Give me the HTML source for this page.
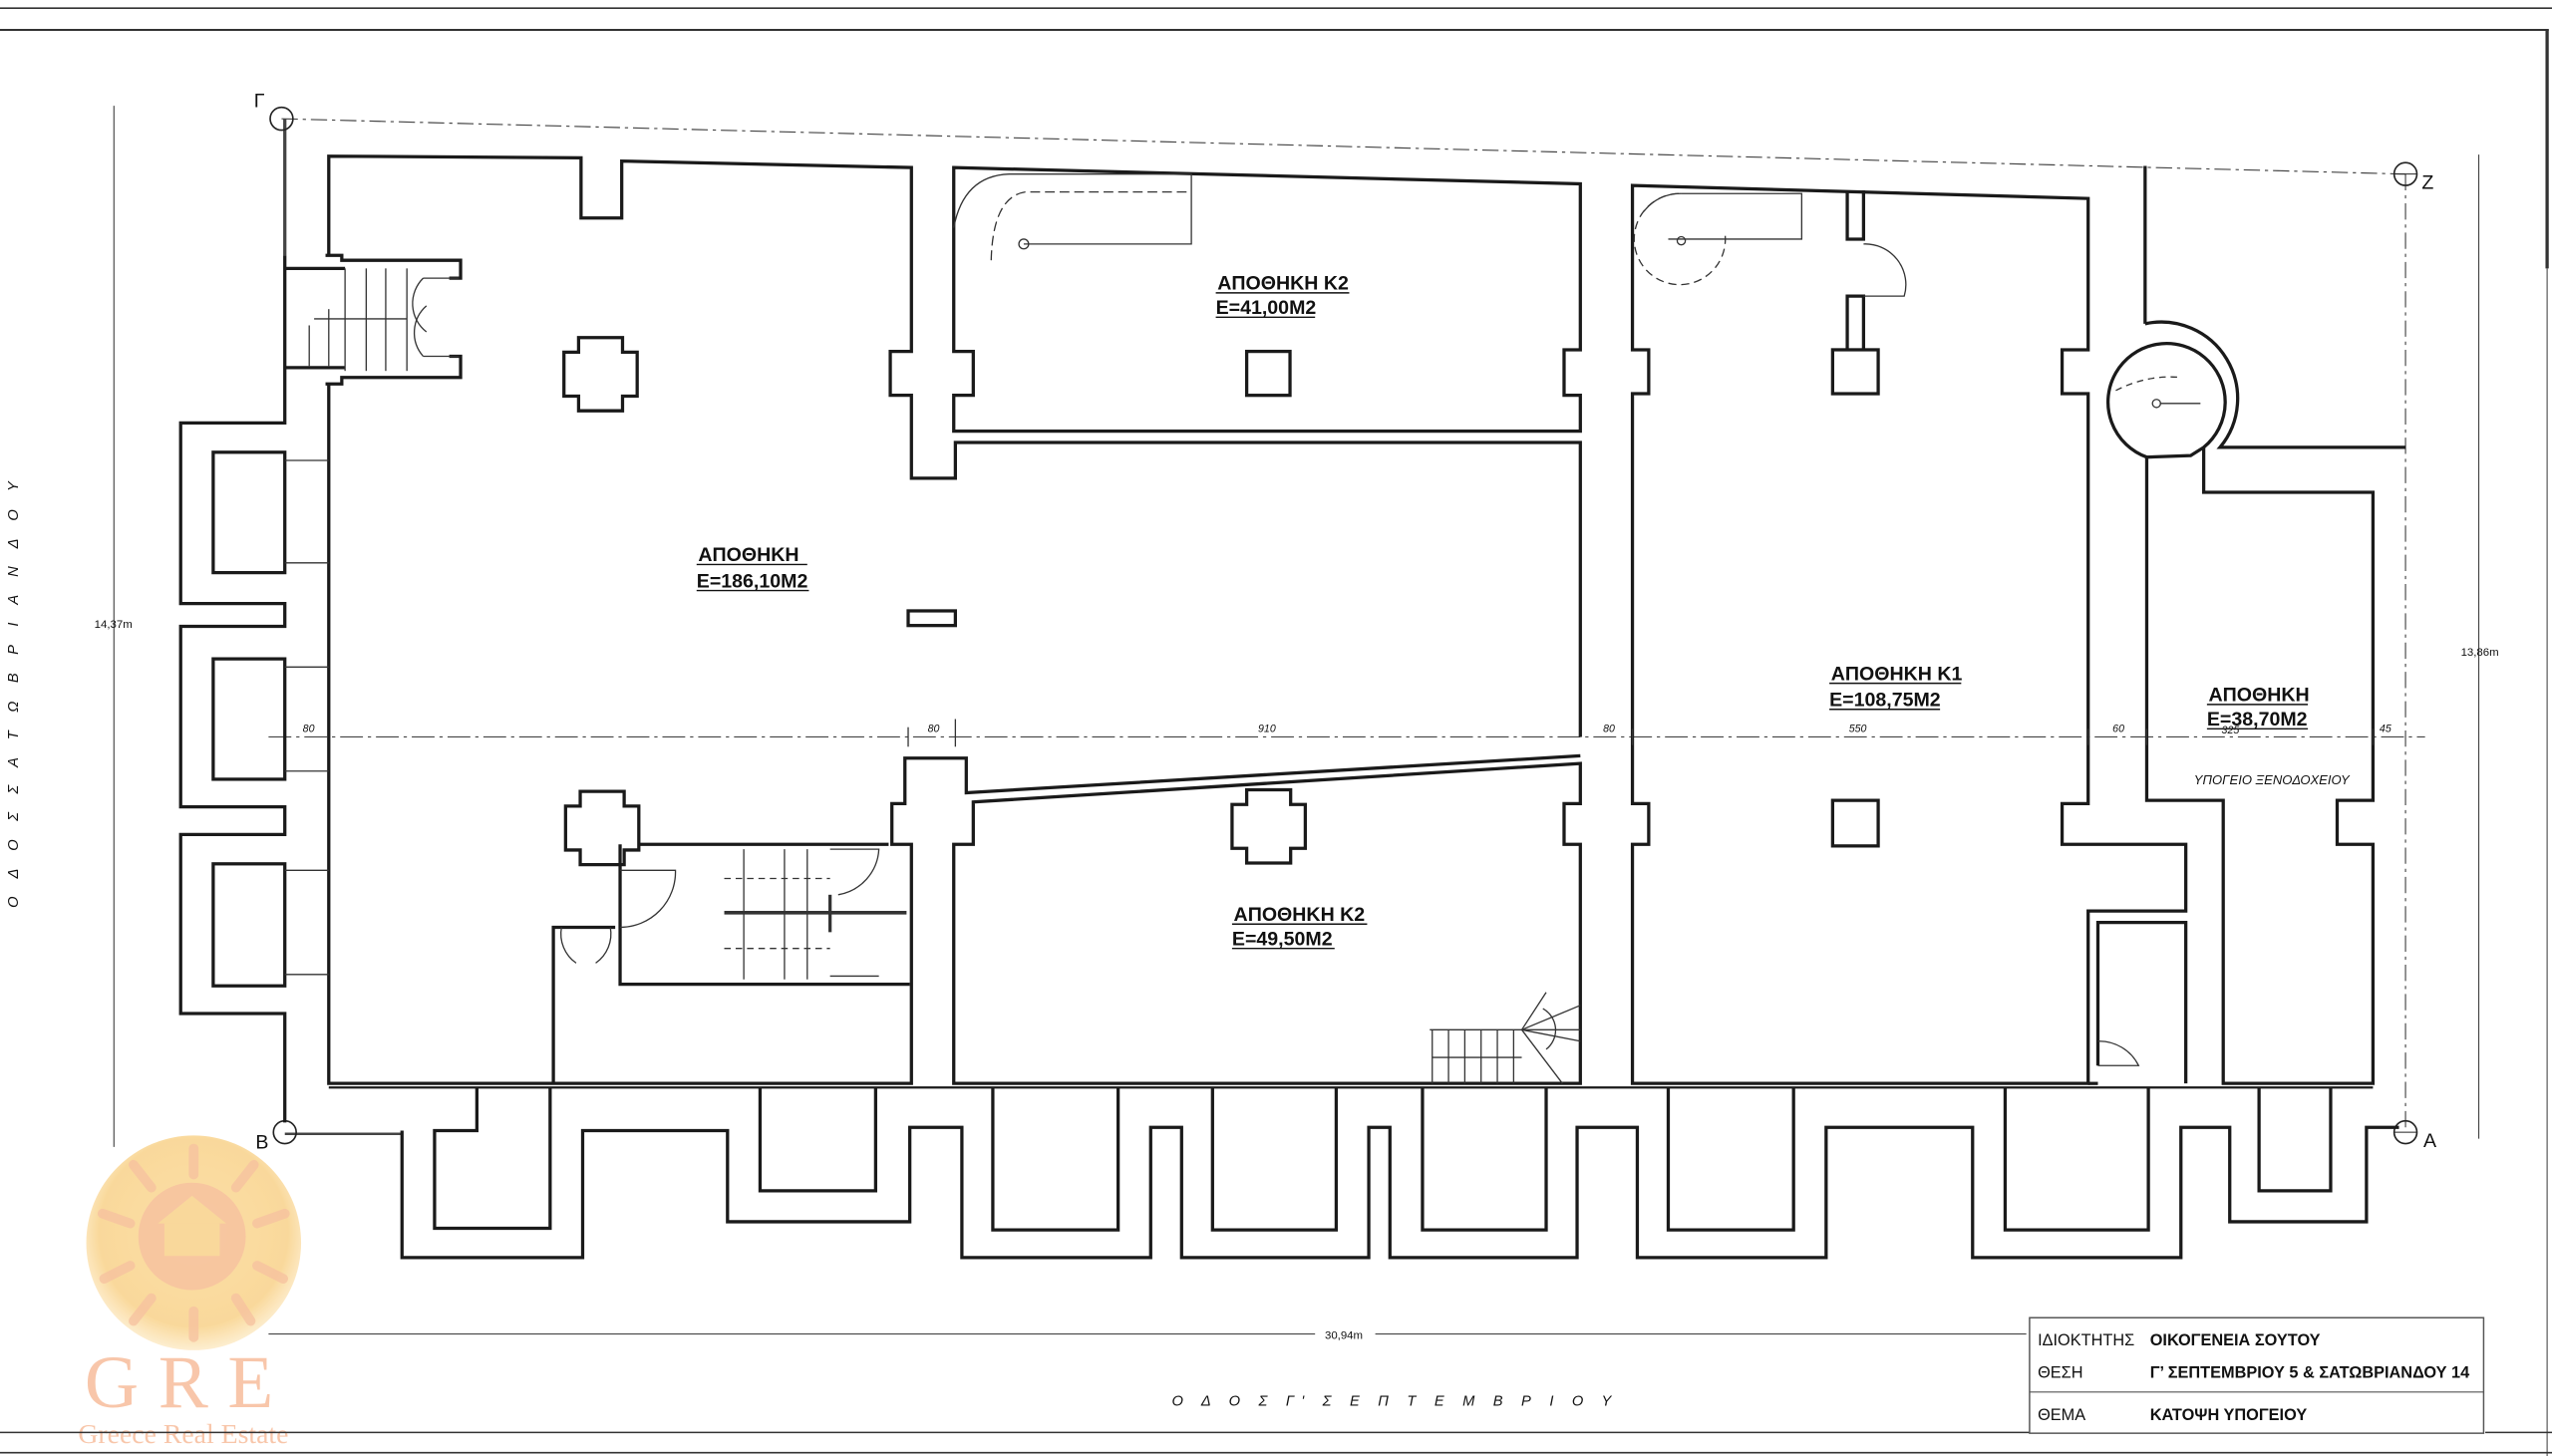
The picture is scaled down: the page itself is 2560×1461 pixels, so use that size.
<!DOCTYPE html>
<html><head><meta charset="utf-8"><style>
html,body{margin:0;padding:0;background:#fff;width:2560px;height:1461px;overflow:hidden}
svg{display:block}
text{font-family:"Liberation Sans","Noto Sans CJK SC",sans-serif;fill:#111}
</style></head><body>
<svg width="2560" height="1461" viewBox="0 0 1568 895" preserveAspectRatio="none" xmlns="http://www.w3.org/2000/svg">
<rect width="1568" height="895" fill="#fff"/>
<!-- logo watermark -->
<defs><radialGradient id="g" cx="50%" cy="45%" r="55%"><stop offset="0" stop-color="#fbd58a"/><stop offset="0.8" stop-color="#f8cc7a"/><stop offset="1" stop-color="#fde9c2"/></radialGradient></defs>
<g opacity="0.75">
<circle cx="119" cy="764" r="66" fill="url(#g)"/>
<circle cx="118" cy="760" r="33" fill="#f4ad80" opacity="0.8"/>
<rect x="101" y="752" width="34" height="20" fill="#f8cc7a"/>
<polygon points="97,752 118,735 139,752" fill="#f8cc7a"/>
<g stroke="#f4ad80" stroke-width="6" opacity="0.75" stroke-linecap="round">
<line x1="119" y1="722" x2="119" y2="706"/><line x1="145" y1="730" x2="156" y2="716"/><line x1="158" y1="752" x2="175" y2="746"/><line x1="158" y1="778" x2="174" y2="786"/><line x1="145" y1="798" x2="154" y2="812"/><line x1="119" y1="806" x2="119" y2="822"/><line x1="93" y1="798" x2="82" y2="812"/><line x1="80" y1="778" x2="64" y2="786"/><line x1="80" y1="752" x2="63" y2="746"/><line x1="93" y1="730" x2="82" y2="716"/>
</g>
<text x="52" y="865" font-size="46" style="fill:#f6b48e;font-family:'Liberation Serif',serif" letter-spacing="12">GRE</text>
<text x="48" y="887" style="fill:#f6b48e;font-family:'Liberation Serif',serif" font-size="17">Greece Real Estate</text>
</g>

<!-- borders -->
<g stroke="#333" fill="none">
<line x1="0" y1="5" x2="1568" y2="5" stroke-width="1"/>
<line x1="0" y1="18.4" x2="1566" y2="18.4" stroke-width="1.2"/>
<line x1="1565" y1="18" x2="1565" y2="165" stroke-width="2"/>
<line x1="1565" y1="165" x2="1565" y2="895" stroke-width="0.6"/>
<line x1="0" y1="880.5" x2="1247" y2="880.5" stroke-width="0.9"/>
<line x1="1527" y1="880.5" x2="1568" y2="880.5" stroke-width="0.9"/>
<line x1="0" y1="893" x2="1568" y2="893" stroke-width="1"/>
</g>

<!-- reference / dimension lines -->
<g stroke="#444" fill="none" stroke-width="0.7">
<line x1="173" y1="73" x2="1478" y2="107" stroke-dasharray="10 3 2 3"/>
<line x1="1478" y1="107" x2="1478" y2="696" stroke-dasharray="10 3 2 3"/>
<line x1="165" y1="453" x2="1490" y2="453" stroke-dasharray="14 3 2 3"/>
<line x1="70" y1="65" x2="70" y2="705"/>
<line x1="1523" y1="95" x2="1523" y2="700"/>
<line x1="165" y1="820" x2="808" y2="820"/>
<line x1="845" y1="820" x2="1245" y2="820"/>
<line x1="175" y1="697" x2="247" y2="697" stroke-width="1.5"/>
<line x1="175" y1="73" x2="175" y2="157" stroke-width="2"/>
</g>
<g stroke="#222" fill="none" stroke-width="1">
<circle cx="173" cy="73" r="7"/><circle cx="175" cy="696" r="7"/>
<circle cx="1478" cy="107" r="7"/><circle cx="1478" cy="696" r="7"/>
<line x1="1471" y1="107" x2="1485" y2="107" stroke-width="0.6"/><line x1="1471" y1="696" x2="1485" y2="696" stroke-width="0.6"/>
</g>
<text x="156" y="66" font-size="12">Γ</text>
<text x="157" y="706" font-size="12">B</text>
<text x="1488" y="116" font-size="12">Z</text>
<text x="1489" y="705" font-size="12">A</text>

<!-- walls -->
<g stroke="#1a1a1a" fill="none" stroke-width="2" stroke-linejoin="miter">
<polyline points="202,157 202,96 357,97 357,134 382,134 382,99 560,103 560,216 547,216 547,243 560,243 560,294 587,294 587,272 971,272 971,453"/>
<polyline points="971,464.6 593.7,487.3 593.7,466 556,466 556,494 548,494 548,519 560,519 560,666 202,666 202,236"/>
<polyline points="200,157 210,157 210,160 283,160 283,171 276,171"/>
<polyline points="200,236 210,236 210,232 283,232 283,219 276,219"/>
<polyline points="175,165 212,165"/><polyline points="175,226 212,226"/>
<polyline points="175,157 175,260 111,260 111,371 175,371 175,385 111,385 111,496 175,496 175,513 111,513 111,623 175,623 175,690"/>
<rect x="131" y="278" width="44" height="74"/>
<rect x="131" y="405" width="44" height="74"/>
<rect x="131" y="531" width="44" height="75"/>
<polygon points="586,103 971,113 971,215 961,215 961,243 971,243 971,265 586,265 586,243 598,243 598,216 586,216"/>
<polygon points="598,493 971,469.3 971,494 961,494 961,519 971,519 971,666 586,666 586,519 598,519"/>
<polygon points="1003,114 1283,122 1283,215 1267,215 1267,242 1283,242 1283,494 1267,494 1267,519 1343,519 1343,560 1283,560 1283,666 1003,666 1003,519 1013,519 1013,494 1003,494 1003,242 1013,242 1013,215 1003,215"/>
<polyline points="1289,655 1289,567 1343,567 1343,666"/>
<polyline points="1283,666 1289,666"/>
<polyline points="1135,117 1135,147 1145,147 1145,117"/>
<polyline points="1135,215 1135,182 1145,182 1145,215"/>
<polyline points="1318,102 1318,199"/>
<path d="M1318,199 A47,47 0 0 1 1364,275 L1478,275"/>
<path d="M1319,281 A36,36 0 1 1 1354,275"/>
<polygon points="1319,281 1319,492 1366,492 1366,666 1458,666 1458,519 1436,519 1436,492 1458,492 1458,302.6 1354,302.6 1354,275 1346,280 1319,281" />
<polyline points="202,668.5 1458,668.5" stroke-width="1.4"/>
<polyline points="247,695 247,773 358,773 358,695 447,695 447,751 559,751 559,693 591,693 591,773 707,773 707,693 726,693 726,773 841,773 841,693 854,693 854,773 969,773 969,693 1006,693 1006,773 1122,773 1122,693 1212,693 1212,773 1340,773 1340,693 1370,693 1370,751 1454,751 1454,693 1474,693"/>
<polyline points="293,668 293,695 267,695 267,755 338,755 338,668"/>
<polyline points="467,668 467,732 538,732 538,668"/>
<polyline points="610,668 610,756 687,756 687,668"/>
<polyline points="745,668 745,756 821,756 821,668"/>
<polyline points="874,668 874,756 950,756 950,668"/>
<polyline points="1025,668 1025,756 1102,756 1102,668"/>
<polyline points="1232,668 1232,756 1320,756 1320,668"/>
<polyline points="1388,668 1388,732 1432,732 1432,668"/>
<polyline points="393,519 546,519"/>
<polyline points="381,519 381,605 559,605"/>
<polyline points="340,666 340,570 378,570"/>
<path d="M355.5,207.5 h27 v9 h9 v27 h-9 v9 h-27 v-9 h-9 v-27 h9 z"/>
<path d="M356.5,486.5 h27 v9 h9 v27 h-9 v9 h-27 v-9 h-9 v-27 h9 z"/>
<path d="M766,485.5 h27 v9 h9 v27 h-9 v9 h-27 v-9 h-9 v-27 h9 z"/>
<rect x="766" y="216" width="26.6" height="27"/>
<rect x="1126" y="215" width="28" height="27"/>
<rect x="1126" y="492" width="28" height="28"/>
<rect x="558" y="375.5" width="29" height="9"/>
</g>

<!-- thin details -->
<g stroke="#333" fill="none" stroke-width="0.8">
<line x1="175" y1="283" x2="202" y2="283"/><line x1="175" y1="346" x2="202" y2="346"/>
<line x1="175" y1="410" x2="202" y2="410"/><line x1="175" y1="474" x2="202" y2="474"/>
<line x1="175" y1="535" x2="202" y2="535"/><line x1="175" y1="599" x2="202" y2="599"/>
<line x1="212" y1="165" x2="212" y2="228"/><line x1="225" y1="165" x2="225" y2="228"/><line x1="237" y1="165" x2="237" y2="228"/><line x1="250" y1="165" x2="250" y2="228"/>
<line x1="193" y1="196" x2="250" y2="196"/><line x1="202" y1="190" x2="202" y2="225"/><line x1="190" y1="200" x2="190" y2="225"/>
<path d="M260,171 A22,22 0 0 0 262,204"/><path d="M260,219 A22,22 0 0 1 262,188"/>
<line x1="260" y1="171" x2="282" y2="171"/><line x1="260" y1="219" x2="282" y2="219"/>
<path d="M586,140 Q592,108 620,107 L732,107 L732,150 L629,150"/>
<path d="M609,160 Q610,121 630,118 L732,118" stroke-dasharray="6 3"/>
<circle cx="629" cy="150" r="3"/>
<path d="M1025,147 L1107,147 L1107,119 L1033,119"/>
<path d="M1060,145 A28,28 0 1 1 1033,119" stroke-dasharray="5 3"/>
<path d="M1033,119 A28,28 0 0 0 1010,130"/>
<circle cx="1033" cy="148" r="2.5"/>
<path d="M1145,150 A25,25 0 0 1 1170,182 L1145,182"/>
<circle cx="1325" cy="248" r="2.5"/><line x1="1327" y1="248" x2="1352" y2="248"/>
<path d="M1300,240 Q1320,230 1340,232" stroke-dasharray="4 3"/>
<path d="M1289,640 A27,27 0 0 1 1314,655 L1289,655"/>
<line x1="457" y1="522" x2="457" y2="602"/><line x1="482" y1="522" x2="482" y2="602"/><line x1="496" y1="522" x2="496" y2="602"/>
<line x1="445" y1="561" x2="557" y2="561" stroke-width="2.2"/>
<line x1="510" y1="550" x2="510" y2="573" stroke-width="2"/>
<line x1="445" y1="540" x2="510" y2="540" stroke-dasharray="4 3"/><line x1="445" y1="583" x2="510" y2="583" stroke-dasharray="4 3"/>
<path d="M510,522 L540,522 A30,30 0 0 1 515,550"/>
<path d="M510,600 L540,600"/>
<path d="M381,535 L415,535 A34,34 0 0 1 381,570"/>
<path d="M345,570 A22,22 0 0 0 354,592"/><path d="M375,570 A22,22 0 0 1 366,592"/>
<line x1="878.5" y1="633" x2="971" y2="633"/>
<line x1="880" y1="633" x2="880" y2="666"/><line x1="890" y1="633" x2="890" y2="666"/><line x1="900" y1="633" x2="900" y2="666"/><line x1="910" y1="633" x2="910" y2="666"/><line x1="920" y1="633" x2="920" y2="666"/><line x1="930" y1="633" x2="930" y2="666"/>
<line x1="880" y1="650" x2="935" y2="650"/>
<line x1="935" y1="633" x2="971" y2="618"/><line x1="935" y1="633" x2="971" y2="640"/><line x1="935" y1="633" x2="960" y2="666"/><line x1="935" y1="633" x2="950" y2="610"/>
<path d="M948,620 A15,15 0 0 1 950,645"/>
<line x1="558" y1="447" x2="558" y2="459"/><line x1="587" y1="442" x2="587" y2="459"/>
<line x1="1003" y1="448" x2="1003" y2="458"/><line x1="1283" y1="448" x2="1283" y2="458"/><line x1="1319" y1="448" x2="1319" y2="458"/><line x1="1458" y1="448" x2="1458" y2="458"/>
</g>

<g font-size="6.5" font-style="italic" fill="#333">
<text x="186" y="450">80</text><text x="570" y="450">80</text><text x="773" y="450">910</text>
<text x="985" y="450">80</text><text x="1136" y="450">550</text><text x="1298" y="450">60</text>
<text x="1365" y="451">325</text><text x="1462" y="450">45</text>
</g>
<text x="58" y="386" font-size="7">14,37m</text>
<text x="1512" y="403" font-size="7">13,86m</text>
<text x="814" y="823" font-size="7">30,94m</text>

<g font-weight="bold" font-size="12">
<text x="429" y="345">ΑΠΟΘΗΚΗ</text>
<text x="428" y="361">Ε=186,10Μ2</text>
<text x="748" y="178">ΑΠΟΘΗΚΗ Κ2</text>
<text x="747" y="193">Ε=41,00Μ2</text>
<text x="758" y="566">ΑΠΟΘΗΚΗ Κ2</text>
<text x="757" y="581">Ε=49,50Μ2</text>
<text x="1125" y="418">ΑΠΟΘΗΚΗ Κ1</text>
<text x="1124" y="434">Ε=108,75Μ2</text>
<text x="1357" y="431">ΑΠΟΘΗΚΗ</text>
<text x="1356" y="446">Ε=38,70Μ2</text>
</g>
<g stroke="#111" stroke-width="0.9">
<line x1="428" y1="347" x2="496" y2="347"/><line x1="428" y1="363" x2="497" y2="363"/>
<line x1="747" y1="180" x2="829" y2="180"/><line x1="747" y1="195" x2="808" y2="195"/>
<line x1="757" y1="568" x2="840" y2="568"/><line x1="757" y1="583" x2="820" y2="583"/>
<line x1="1124" y1="420" x2="1205" y2="420"/><line x1="1124" y1="436" x2="1192" y2="436"/>
<line x1="1356" y1="433" x2="1418" y2="433"/><line x1="1356" y1="448" x2="1418" y2="448"/>
</g>
<text x="1348" y="482" font-size="8" font-style="italic">ΥΠΟΓΕΙΟ  ΞΕΝΟΔΟΧΕΙΟΥ</text>

<text x="720" y="864" font-size="9" font-style="italic" textLength="270" lengthAdjust="spacing">Ο Δ Ο Σ   Γ' Σ Ε Π Τ Ε Μ Β Ρ Ι Ο Υ</text>
<text transform="translate(11,558) rotate(-90)" font-size="9" font-style="italic" textLength="262" lengthAdjust="spacing">Ο Δ Ο Σ   Σ Α Τ Ω Β Ρ Ι Α Ν Δ Ο Υ</text>

<rect x="1247" y="810" width="279" height="71" fill="#fff" stroke="#555" stroke-width="0.9"/>
<line x1="1247" y1="855.7" x2="1526" y2="855.7" stroke="#555" stroke-width="0.7"/>
<g font-size="10">
<text x="1252" y="827">ΙΔΙΟΚΤΗΤΗΣ</text>
<text x="1252" y="847">ΘΕΣΗ</text>
<text x="1252" y="873">ΘΕΜΑ</text>
</g>
<g font-size="10" font-weight="bold">
<text x="1321" y="827">ΟΙΚΟΓΕΝΕΙΑ ΣΟΥΤΟΥ</text>
<text x="1321" y="847">Γ’ ΣΕΠΤΕΜΒΡΙΟΥ 5 &amp; ΣΑΤΩΒΡΙΑΝΔΟΥ 14</text>
<text x="1321" y="873">ΚΑΤΟΨΗ ΥΠΟΓΕΙΟΥ</text>
</g>
</svg>
</body></html>
